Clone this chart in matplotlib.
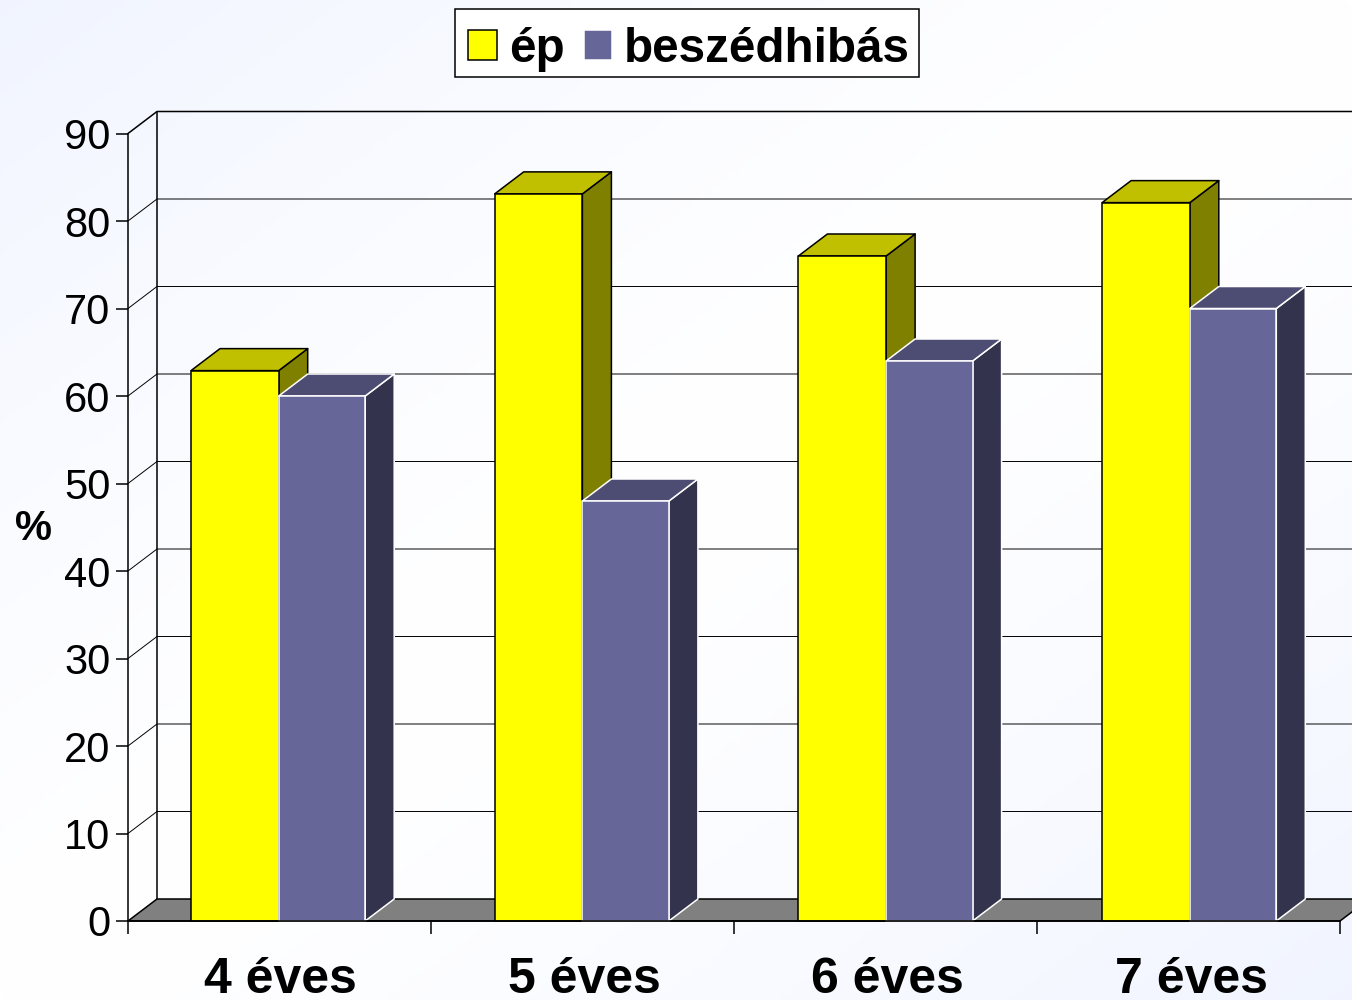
import numpy as np
import matplotlib
matplotlib.use("Agg")
import matplotlib.pyplot as plt
from matplotlib.patches import Polygon, Patch, Rectangle

plt.rcParams['font.family'] = ['Liberation Sans', 'DejaVu Sans']

# data
categories = ["4 éves", "5 éves", "6 éves", "7 éves"]
ep = [62.9, 83.1, 76, 82.1]
beszedhibas = [60, 48, 64, 70]
yticks = [0, 10, 20, 30, 40, 50, 60, 70, 80, 90]

W, H = 1352, 1000
fig = plt.figure(figsize=(W / 100, H / 100), dpi=100)

# pale blue corners fading to white in the middle
bg = fig.add_axes([0, 0, 1, 1], zorder=0)
xx, yy = np.meshgrid(np.linspace(0, 1, 300), np.linspace(0, 1, 220))
t = np.clip(np.abs(xx + yy - 1.0), 0, 1)
low = np.array([1.0, 1.0, 1.0])
high = np.array([0.945, 0.96, 1.0])
bg.imshow(low + (high - low) * t[..., None] ** 1.3, aspect='auto', origin='upper')
bg.axis('off')

ax = fig.add_axes([128 / W, 1 - 921 / H, (1340 - 128) / W, (921 - 133.5) / H], zorder=1)
ax.patch.set_alpha(0)
ax.set_xlim(0, 4)
ax.set_ylim(0, 90)

# depth of the fake 3d box in data units
dx = 29 / 303.0
dy = 22 / 8.75
bar_w = 87.7 / 303.0
blue_w = 86.5 / 303.0
bar_start = 63 / 303.0
group_step = 303.7 / 303.0


def poly(pts, fc, ec, lw=1.1, z=3):
    ax.add_patch(Polygon(pts, closed=True, facecolor=fc, edgecolor=ec, linewidth=lw,
                         joinstyle='round', clip_on=False, zorder=z))


def bar3d(x, w, val, front, top, side, ec, z):
    poly([(x + w, 0), (x + w + dx, dy), (x + w + dx, val + dy), (x + w, val)], side, ec, z=z)
    poly([(x, val), (x + dx, val + dy), (x + w + dx, val + dy), (x + w, val)], top, ec, z=z)
    poly([(x, 0), (x, val), (x + w, val), (x + w, 0)], front, ec, z=z)


# floor
poly([(0, 0), (dx, dy), (4 + dx, dy), (4, 0)], '#808080', 'black', z=1.5)

# walls and gridlines
for v in yticks[1:-1]:
    ax.plot([0, dx, 4 + dx], [v, v + dy, v + dy], color='black', lw=0.7, clip_on=False, zorder=1)
ax.plot([0, dx, 4 + dx], [90, 90 + dy, 90 + dy], color='black', lw=1.1, clip_on=False, zorder=1)
ax.plot([dx, dx], [dy, 90 + dy], color='black', lw=1.1, clip_on=False, zorder=1)

for i in range(len(categories)):
    x = i * group_step + bar_start
    bar3d(x, bar_w, ep[i], '#ffff00', '#c0c000', '#808000', 'black', 3 + i * 0.1)
    bar3d(x + bar_w, blue_w, beszedhibas[i], '#666699', '#4d4d73', '#33334d', 'white', 3.05 + i * 0.1)

# axis line on top of the bars
ax.plot([0, 4], [0, 0], color='black', lw=1.2, clip_on=False, zorder=5)

for s in ['top', 'right']:
    ax.spines[s].set_visible(False)
ax.spines['bottom'].set_visible(False)
ax.spines['left'].set_linewidth(1.1)

ax.set_yticks(yticks)
ax.tick_params(axis='y', length=9, width=1.1, pad=3.6, labelsize=30)
ax.set_xticks(range(5))
ax.set_xticklabels([])
ax.tick_params(axis='x', which='major', length=9, width=1.1)
ax.set_xticks(np.arange(4) * group_step + 0.503, minor=True)
ax.set_xticklabels(categories, minor=True, fontsize=36, fontweight='bold')
ax.tick_params(axis='x', which='minor', length=0, pad=26)

fig.text(33.5 / W, 1 - 529 / H, "%", fontsize=30, fontweight='bold', ha='center', va='center', zorder=3)

# legend box drawn apart so the text can sit low in it like the reference
fig.add_artist(Rectangle((455 / W, 1 - 77 / H), (919 - 455) / W, 68 / H, transform=fig.transFigure,
                         facecolor='white', edgecolor='black', linewidth=1.1, zorder=2))
handles = [Patch(facecolor='#ffff00', edgecolor='black', linewidth=1.1),
           Patch(facecolor='#666699', edgecolor='white', linewidth=1.1)]
leg = fig.legend(handles, ["ép", "beszédhibás"], ncol=2, loc='center',
                 bbox_to_anchor=(689.2 / W, 1 - 49 / H),
                 prop={'size': 34.3, 'weight': 'bold'}, frameon=False,
                 handlelength=0.6, handleheight=0.6, handletextpad=0.25,
                 columnspacing=0.4, borderpad=0.3, borderaxespad=0)
leg.set_zorder(3)

fig.savefig("out.png", dpi=100)
